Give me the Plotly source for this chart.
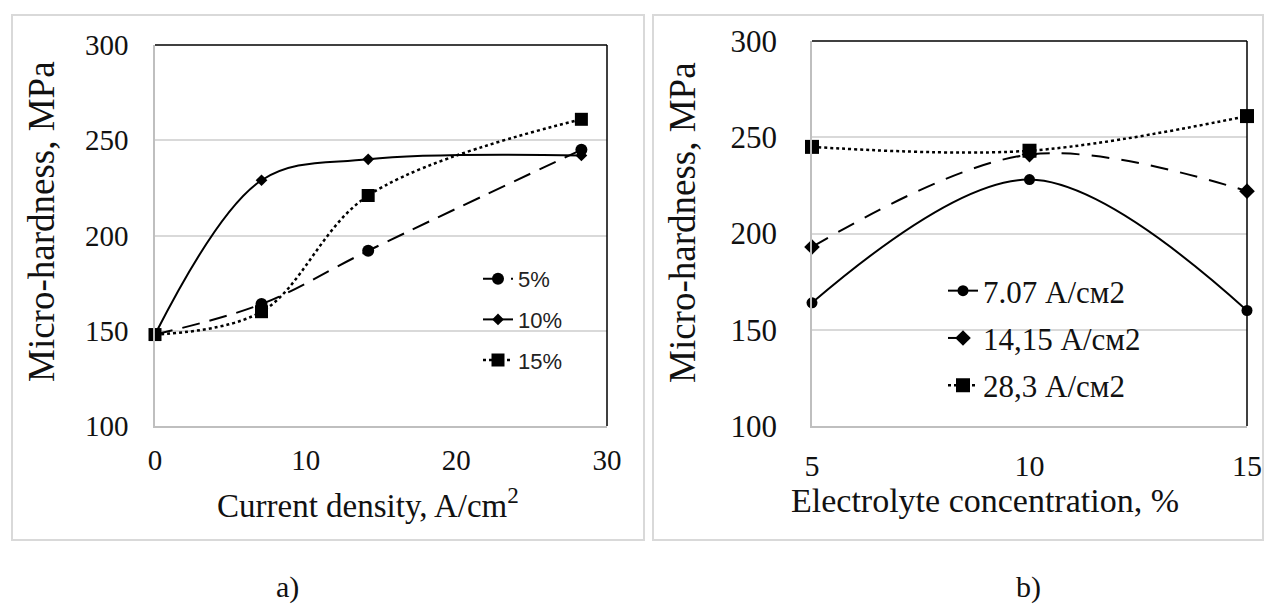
import plotly.graph_objects as go

W, H = 1273, 604

# ---- Panel a) : micro-hardness vs current density ----
current_density = [0, 7.07, 14.15, 28.3]
hard_5pct = [148, 164, 192, 245]
hard_10pct = [148, 229, 240, 242]
hard_15pct = [148, 160, 221, 261]
names_a = ["5%", "10%", "15%"]

# ---- Panel b) : micro-hardness vs electrolyte concentration ----
concentration = [5, 10, 15]
hard_707 = [164, 228, 160]
hard_1415 = [193, 241, 222]
hard_283 = [245, 243, 261]
names_b = ["7.07 А/см2", "14,15 А/см2", "28,3 А/см2"]

x_ticks_a = [0, 10, 20, 30]
x_ticks_b = [5, 10, 15]
y_ticks = [100, 150, 200, 250, 300]

SERIF = "Liberation Serif, Times New Roman, serif"
SANS = "Liberation Sans, Arial, sans-serif"
BLACK = "#000000"
TXT = "#111111"
GRID = "#d9d9d9"
AXIS = "#bfbfbf"


def px(v):
    return v / W


def py(v):
    return 1 - v / H


fig = go.Figure()

styles_a = [
    dict(dash="18px,10px", width=2, symbol="circle", size=12),
    dict(dash="solid", width=2, symbol="diamond", size=9),
    dict(dash="dot", width=2.5, symbol="square", size=13),
]
for name, ys, st in zip(names_a, [hard_5pct, hard_10pct, hard_15pct], styles_a):
    fig.add_trace(go.Scatter(
        x=current_density, y=ys, name=name, mode="lines+markers",
        line=dict(color=BLACK, width=st["width"], dash=st["dash"], shape="spline", smoothing=1),
        marker=dict(color=BLACK, symbol=st["symbol"], size=st["size"]),
        xaxis="x", yaxis="y", legend="legend", legendgroup=name, cliponaxis=False,
    ))

styles_b = [
    dict(dash="solid", width=2, symbol="circle", size=11),
    dict(dash="18px,12px", width=2, symbol="diamond", size=12),
    dict(dash="dot", width=2.5, symbol="square", size=14),
]
for name, ys, st in zip(names_b, [hard_707, hard_1415, hard_283], styles_b):
    fig.add_trace(go.Scatter(
        x=concentration, y=ys, name=name, mode="lines+markers",
        line=dict(color=BLACK, width=st["width"], dash=st["dash"], shape="spline", smoothing=1),
        marker=dict(color=BLACK, symbol=st["symbol"], size=st["size"]),
        xaxis="x2", yaxis="y2", legend="legend2", legendgroup=name, cliponaxis=False,
    ))

common_x = dict(showgrid=False, zeroline=False, showline=True, linecolor=AXIS, linewidth=1.5,
                ticks="", automargin=False)
common_y = dict(showgrid=True, gridcolor=GRID, gridwidth=1.5, zeroline=False, showline=True,
                linecolor=AXIS, linewidth=1.5, ticks="", automargin=False,
                range=[100, 300], tickvals=y_ticks)

fig.update_layout(
    width=W, height=H,
    margin=dict(l=0, r=0, t=0, b=0, autoexpand=False),
    paper_bgcolor="white", plot_bgcolor="white",
    xaxis=dict(domain=[px(155), px(607)], range=[0, 30], tickvals=x_ticks_a, anchor="y",
               ticklabelstandoff=7, tickfont=dict(family=SERIF, size=29, color=TXT), **common_x),
    yaxis=dict(domain=[py(426), py(45)], anchor="x", ticklabelstandoff=19,
               tickfont=dict(family=SERIF, size=29, color=TXT), **common_y),
    xaxis2=dict(domain=[px(812), px(1247)], range=[5, 15], tickvals=x_ticks_b, anchor="y2",
                ticklabelstandoff=12, tickfont=dict(family=SERIF, size=30, color=TXT), **common_x),
    yaxis2=dict(domain=[py(426), py(41)], anchor="x2", ticklabelstandoff=27,
                tickfont=dict(family=SERIF, size=31, color=TXT), **common_y),
    legend=dict(x=px(478), y=py(258), xanchor="left", yanchor="top",
                font=dict(family=SANS, size=22, color="#222222"),
                bgcolor="rgba(0,0,0,0)", tracegroupgap=9, itemwidth=30),
    legend2=dict(x=px(943), y=py(264), xanchor="left", yanchor="top",
                 font=dict(family=SERIF, size=31, color=TXT),
                 bgcolor="rgba(0,0,0,0)", tracegroupgap=4, itemwidth=30),
    showlegend=True,
)

shapes = []
# panel frames
for x0, x1 in [(12, 644), (653, 1263)]:
    shapes.append(dict(type="rect", xref="paper", yref="paper",
                       x0=px(x0), x1=px(x1), y0=py(540), y1=py(15),
                       line=dict(color=GRID, width=2), fillcolor="rgba(0,0,0,0)", layer="below"))
# black top and right plot-area borders
for xr, yr in [("x domain", "y domain"), ("x2 domain", "y2 domain")]:
    shapes.append(dict(type="line", xref=xr, yref=yr, x0=0, x1=1, y0=1, y1=1,
                       line=dict(color=BLACK, width=1.5)))
    shapes.append(dict(type="line", xref=xr, yref=yr, x0=1, x1=1, y0=0, y1=1,
                       line=dict(color=BLACK, width=1.5)))
fig.update_layout(shapes=shapes)


def note(text, x, y, size, angle=0):
    return dict(text=text, x=px(x), y=py(y), xref="paper", yref="paper",
                xanchor="center", yanchor="middle", showarrow=False, textangle=angle,
                font=dict(family=SERIF, size=size, color=TXT))


ann = [
    note("Current density, A/cm<sup>2</sup>", 368, 503, 33),
    note("Electrolyte concentration, %", 985, 500, 34),
    note("Micro-hardness, MPa", 41, 222, 37, -90),
    note("Micro-hardness, MPa", 682, 222, 37, -90),
    note("a)", 287, 587, 30),
    note("b)", 1028, 587, 30),
]
fig.update_layout(annotations=ann)

fig.write_html(
    "out.html",
    config={"displayModeBar": False},
    post_script="document.body.style.margin='0';document.body.style.overflow='hidden';",
)
